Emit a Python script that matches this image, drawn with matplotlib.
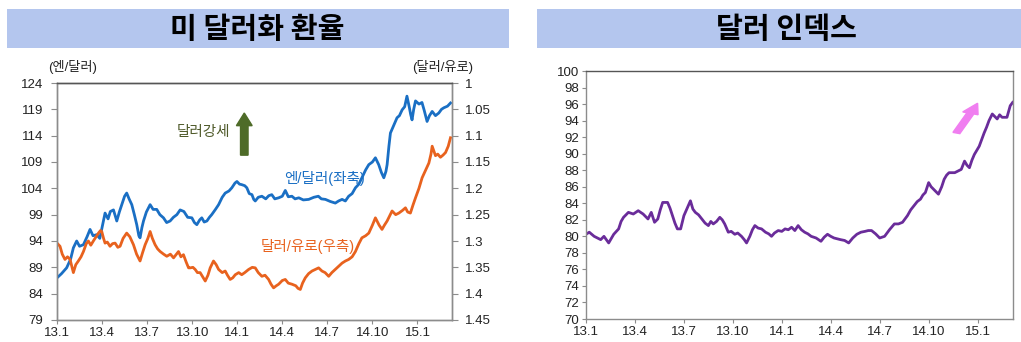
import matplotlib
matplotlib.use("Agg")
import matplotlib.pyplot as plt
from matplotlib.patches import Rectangle, FancyArrow

plt.rcParams['font.family'] = ['Liberation Sans', 'Noto Sans CJK KR', 'DejaVu Sans']

# x positions are months since Jan 2013 (0 = 13.1, 24 = 15.1)
tick_months = [0, 3, 6, 9, 12, 15, 18, 21, 24]
tick_labels = ['13.1', '13.4', '13.7', '13.10', '14.1', '14.4', '14.7', '14.10', '15.1']

# 엔/달러 (left axis)
jpy_t = [0, 0.3, 0.64, 0.9, 1.09, 1.31, 1.5, 1.76, 2.0, 2.2, 2.4, 2.64, 2.85, 3.09, 3.2, 3.4,
         3.55, 3.76, 3.98, 4.15, 4.31, 4.5, 4.64, 4.8, 4.98, 5.15, 5.31, 5.45, 5.53, 5.65, 5.76,
         5.95, 6.2, 6.4, 6.64, 6.85, 7.09, 7.3, 7.53, 7.75, 7.98, 8.2, 8.45, 8.7, 8.98, 9.15,
         9.31, 9.5, 9.64, 9.8, 9.98, 10.15, 10.3, 10.55, 10.76, 11.0, 11.2, 11.45, 11.64, 11.85,
         11.98, 12.15, 12.3, 12.5, 12.64, 12.8, 12.98, 13.1, 13.2, 13.4, 13.64, 13.9, 14.1, 14.3,
         14.5, 14.76, 15.0, 15.2, 15.4, 15.64, 15.85, 16.1, 16.4, 16.76, 17.1, 17.4, 17.6, 17.87,
         18.2, 18.53, 18.75, 18.98, 19.2, 19.42, 19.65, 19.87, 20.1, 20.3, 20.55, 20.76, 21.0,
         21.2, 21.3, 21.42, 21.6, 21.76, 21.9, 21.98, 22.1, 22.2, 22.4, 22.64, 22.8, 22.98, 23.15,
         23.3, 23.45, 23.55, 23.64, 23.75, 23.87, 24.1, 24.3, 24.45, 24.64, 24.8, 24.98, 25.2,
         25.42, 25.6, 25.76, 26.0, 26.2]
jpy = [87.0, 87.8, 88.9, 90.5, 92.7, 94.0, 93.0, 93.3, 94.8, 96.2, 95.0, 95.2, 94.5, 97.8, 99.3, 98.2,
       99.6, 99.9, 97.8, 99.5, 100.9, 102.5, 103.1, 102.0, 100.9, 99.0, 97.1, 95.0, 94.6, 96.5, 97.8,
       99.5, 100.9, 100.0, 100.0, 99.0, 98.4, 97.5, 97.8, 98.5, 99.0, 99.9, 99.6, 98.5, 98.4, 97.5,
       97.1, 98.0, 98.4, 97.6, 97.8, 98.5, 99.0, 100.0, 100.9, 102.3, 103.1, 103.5, 104.1, 105.0,
       105.3, 104.8, 104.7, 104.5, 104.1, 103.0, 102.8, 101.9, 101.6, 102.3, 102.5, 102.0, 102.6, 102.8,
       102.0, 102.2, 102.5, 103.6, 102.4, 102.5, 102.0, 102.2, 101.8, 101.9, 102.3, 102.5, 102.0, 101.9,
       101.5, 101.2, 101.6, 101.9, 101.6, 102.5, 103.0, 104.1, 104.8, 106.0, 107.5, 108.5, 109.0,
       109.8, 109.2, 108.5, 107.0, 106.0, 107.2, 108.5, 112.0, 114.5, 115.8, 117.4, 117.8, 118.9, 119.5,
       121.5, 119.5, 118.0, 117.0, 119.0, 120.6, 120.0, 120.3, 118.8, 116.7, 117.8, 118.6, 117.8,
       118.3, 119.0, 119.3, 119.6, 120.2]

# 달러/유로 (right axis, inverted)
eur_t = [0, 0.2, 0.35, 0.53, 0.7, 0.87, 1.0, 1.09, 1.25, 1.42, 1.6, 1.76, 1.95, 2.09, 2.25, 2.42,
         2.6, 2.76, 2.9, 2.98, 3.1, 3.2, 3.35, 3.53, 3.7, 3.87, 4.05, 4.2, 4.4, 4.64, 4.85, 5.09,
         5.3, 5.53, 5.7, 5.87, 6.05, 6.2, 6.35, 6.53, 6.7, 6.87, 7.1, 7.31, 7.55, 7.76, 7.95, 8.09,
         8.25, 8.42, 8.6, 8.76, 8.87, 9.05, 9.2, 9.35, 9.53, 9.7, 9.87, 10.05, 10.2, 10.42, 10.6,
         10.76, 11.0, 11.2, 11.35, 11.53, 11.7, 11.87, 12.1, 12.3, 12.5, 12.76, 13.0, 13.2, 13.4,
         13.64, 13.85, 14.09, 14.25, 14.42, 14.6, 14.76, 15.0, 15.2, 15.4, 15.64, 15.9, 16.05, 16.2,
         16.35, 16.53, 16.75, 16.98, 17.2, 17.42, 17.64, 17.85, 18.09, 18.3, 18.53, 18.75, 18.98,
         19.2, 19.42, 19.65, 19.87, 20.1, 20.3, 20.55, 20.76, 21.0, 21.2, 21.45, 21.64, 21.8, 21.98,
         22.15, 22.31, 22.55, 22.76, 23.0, 23.2, 23.35, 23.53, 23.7, 23.87, 24.1, 24.31, 24.55,
         24.76, 24.9, 24.98, 25.1, 25.2, 25.35, 25.53, 25.7, 25.87, 26.05, 26.2]
eur = [1.304, 1.310, 1.325, 1.335, 1.330, 1.335, 1.350, 1.360, 1.345, 1.338, 1.330, 1.320, 1.305, 1.300,
       1.308, 1.300, 1.292, 1.285, 1.280, 1.282, 1.295, 1.304, 1.302, 1.310, 1.305, 1.304, 1.312, 1.310,
       1.295, 1.285, 1.292, 1.307, 1.325, 1.338, 1.322, 1.307, 1.295, 1.282, 1.295, 1.307, 1.315, 1.320,
       1.325, 1.329, 1.325, 1.332, 1.325, 1.320, 1.330, 1.326, 1.340, 1.351, 1.351, 1.350, 1.354, 1.360,
       1.360, 1.368, 1.376, 1.365, 1.351, 1.338, 1.345, 1.354, 1.360, 1.357, 1.365, 1.373, 1.370, 1.364,
       1.360, 1.364, 1.360, 1.354, 1.350, 1.351, 1.360, 1.367, 1.365, 1.373, 1.382, 1.389, 1.385, 1.382,
       1.375, 1.373, 1.380, 1.382, 1.385, 1.390, 1.392, 1.380, 1.370, 1.362, 1.357, 1.354, 1.351, 1.357,
       1.360, 1.367, 1.360, 1.354, 1.348, 1.342, 1.338, 1.335, 1.330, 1.320, 1.305, 1.294, 1.290, 1.285,
       1.270, 1.256, 1.270, 1.278, 1.270, 1.262, 1.252, 1.243, 1.250, 1.247, 1.242, 1.237, 1.245, 1.247,
       1.232, 1.218, 1.200, 1.180, 1.165, 1.152, 1.135, 1.120, 1.130, 1.138, 1.135, 1.141, 1.137, 1.132,
       1.120, 1.104]

# 달러 인덱스
dxy_t = [0, 0.2, 0.5, 0.9, 1.1, 1.39, 1.7, 2.0, 2.15, 2.3, 2.6, 2.9, 3.2, 3.5, 3.8, 4.0, 4.2, 4.4,
         4.55, 4.7, 5.0, 5.15, 5.3, 5.45, 5.6, 5.8, 6.0, 6.2, 6.4, 6.55, 6.7, 6.9, 7.1, 7.3, 7.5,
         7.65, 7.8, 8.0, 8.2, 8.35, 8.5, 8.72, 8.9, 9.12, 9.3, 9.53, 9.7, 9.84, 10.04, 10.2, 10.35,
         10.55, 10.76, 11.0, 11.2, 11.37, 11.55, 11.78, 12.0, 12.2, 12.4, 12.6, 12.8, 13.0, 13.2,
         13.4, 13.6, 13.8, 14.1, 14.4, 14.6, 14.8, 15.0, 15.2, 15.4, 15.6, 15.85, 16.1, 16.35, 16.6,
         16.85, 17.1, 17.3, 17.5, 17.75, 18.0, 18.3, 18.6, 18.9, 19.15, 19.4, 19.7, 19.9, 20.1, 20.3,
         20.5, 20.65, 20.8, 21.0, 21.15, 21.3, 21.45, 21.6, 21.8, 21.95, 22.1, 22.25, 22.6, 22.8,
         23.0, 23.2, 23.35, 23.5, 23.65, 23.8, 24.1, 24.25, 24.4, 24.55, 24.7, 24.9, 25.05, 25.2,
         25.35, 25.5, 25.8, 26.0, 26.15]
dxy = [80.25, 80.5, 80.0, 79.6, 80.0, 79.2, 80.25, 80.9, 81.8, 82.3, 82.9, 82.7, 83.1, 82.7, 82.1, 82.9,
       81.7, 82.1, 83.2, 84.1, 84.1, 83.4, 82.5, 81.6, 80.9, 80.9, 82.5, 83.4, 84.3, 83.3, 82.9, 82.6,
       82.1, 81.6, 81.3, 81.8, 81.5, 81.8, 82.3, 82.0, 81.5, 80.5, 80.6, 80.25, 80.4, 80.0, 79.6, 79.2,
       80.0, 80.8, 81.3, 81.0, 80.9, 80.5, 80.3, 80.0, 80.4, 80.7, 80.6, 80.9, 80.8, 81.1, 80.7, 81.3,
       80.8, 80.5, 80.3, 80.0, 79.8, 79.4, 79.9, 80.25, 80.0, 79.8, 79.7, 79.6, 79.5, 79.2, 79.8, 80.25,
       80.5, 80.6, 80.7, 80.7, 80.3, 79.8, 80.0, 80.8, 81.5, 81.5, 81.7, 82.5, 83.2, 83.7, 84.2, 84.5,
       85.0, 85.3, 86.5, 86.0, 85.7, 85.4, 85.1, 86.0, 86.9, 87.4, 87.7, 87.7, 87.9, 88.1, 89.1, 88.6,
       88.3, 89.2, 89.9, 90.9, 91.7, 92.5, 93.2, 94.0, 94.8, 94.5, 94.2, 94.7, 94.4, 94.4, 95.8, 96.2]

jpy_ticks = [79, 84, 89, 94, 99, 104, 109, 114, 119, 124]
eur_ticks = [1.0, 1.05, 1.1, 1.15, 1.2, 1.25, 1.3, 1.35, 1.4, 1.45]
eur_tick_labels = ['1', '1.05', '1.1', '1.15', '1.2', '1.25', '1.3', '1.35', '1.4', '1.45']
dxy_ticks = list(range(70, 101, 2))

BLUE = '#1A6FC4'
ORANGE = '#E8621E'
PURPLE = '#6A2C9A'
BAND = '#B4C6EE'
SPINE = '#8C8C8C'

W, H = 1021, 342
fig = plt.figure(figsize=(W / 100, H / 100), dpi=100)


def fx(px):
    return px / W


def fy(py):
    return 1 - py / H


# title bands
for x0, x1, title, cx in [(7, 509, '미 달러화 환율', 257), (537, 1021, '달러 인덱스', 786)]:
    fig.patches.append(Rectangle((fx(x0), fy(48)), fx(x1) - fx(x0), fy(9) - fy(48),
                                 transform=fig.transFigure, facecolor=BAND, edgecolor='none', zorder=0))
    fig.text(fx(cx), fy(29), title, ha='center', va='center', fontsize=21, fontweight='bold',
             family=['Noto Sans CJK KR', 'DejaVu Sans'], color='black')


def style_axes(ax):
    for s in ax.spines.values():
        s.set_color(SPINE)
        s.set_linewidth(1.0)
    ax.spines['top'].set_color('#555555')
    ax.tick_params(colors=SPINE, labelcolor='#222222', labelsize=9.5, length=3, width=0.8)


# ---- left panel: exchange rates ----
axL = fig.add_axes([fx(57), fy(320), fx(452) - fx(57), fy(83) - fy(320)])
axL.plot(jpy_t, jpy, color=BLUE, lw=2.0, zorder=3)
axL.set_xlim(0, 26.3)
axL.set_ylim(79, 124)
axL.set_yticks(jpy_ticks)
axL.set_xticks(tick_months)
axL.set_xticklabels(tick_labels)
style_axes(axL)
axL.tick_params(axis='y', pad=6, length=4)
axL.tick_params(axis='x', pad=2)

axR = axL.twinx()
axR.plot(eur_t, eur, color=ORANGE, lw=2.0, zorder=2)
axR.set_ylim(1.45, 1.0)
axR.set_yticks(eur_ticks)
axR.set_yticklabels(eur_tick_labels)
style_axes(axR)
axR.tick_params(axis='y', pad=5, length=4)

axL.text(0.04, 1.068, '(엔/달러)', transform=axL.transAxes, ha='center', va='center', fontsize=9.5, color='#222222')
axL.text(0.977, 1.068, '(달러/유로)', transform=axL.transAxes, ha='center', va='center', fontsize=9.5, color='#222222')
axL.text(17.8, 105.8, '엔/달러(좌축)', ha='center', va='center', fontsize=10.5, color=BLUE, zorder=4)
axL.text(16.67, 92.9, '달러/유로(우측)', ha='center', va='center', fontsize=10.5, color=ORANGE, zorder=4)
axL.text(9.73, 114.7, '달러강세', ha='center', va='center', fontsize=10.5, color='#4F5A2A', zorder=4)
axL.add_patch(FancyArrow(12.47, 110.3, 0, 8.0, width=0.5, head_width=1.05, head_length=2.4,
                         length_includes_head=True, color='#4E6B28', zorder=4))

# ---- right panel: dollar index ----
ax2 = fig.add_axes([fx(586), fy(319), fx(1013) - fx(586), fy(71) - fy(319)])
ax2.plot(dxy_t, dxy, color=PURPLE, lw=2.0)
ax2.set_xlim(0, 26.17)
ax2.set_ylim(70, 100)
ax2.set_yticks(dxy_ticks)
ax2.set_xticks(tick_months)
ax2.set_xticklabels(tick_labels)
style_axes(ax2)
ax2.tick_params(axis='y', pad=2, length=3)
ax2.tick_params(axis='x', pad=2)
ax2.add_patch(FancyArrow(22.7, 92.5, 1.3, 3.6, width=0.45, head_width=1.0, head_length=1.3,
                         length_includes_head=True, color='#F07EF0', zorder=4))

fig.savefig('out.png', dpi=100)
